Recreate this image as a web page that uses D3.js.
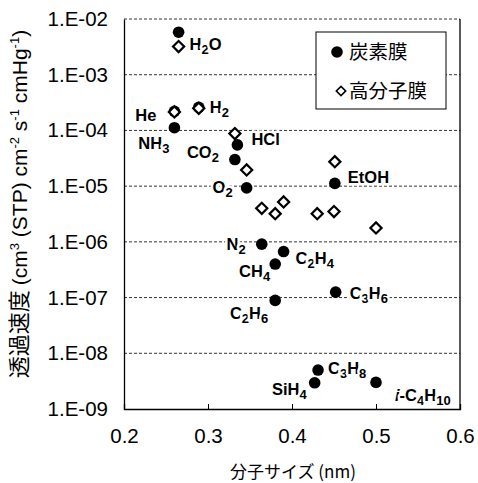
<!DOCTYPE html>
<html>
<head>
<meta charset="utf-8">
<script src="https://cdn.jsdelivr.net/npm/d3@7"></script>
<style>
  body { margin: 0; background: #fff; }
  svg { display: block; }
</style>
</head>
<body>
<div id="chart"></div>
<script>
// carbon membrane (filled circles)
const carbonGas  = ["H2O", "He", "H2", "NH3", "HCl", "CO2", "O2", "EtOH", "N2", "C2H4", "CH4", "C2H6", "C3H6", "C3H8", "SiH4", "i-C4H10"];
const carbonSize = [0.265, 0.26, 0.289, 0.26, 0.335, 0.332, 0.346, 0.451, 0.364, 0.39, 0.38, 0.38, 0.452, 0.431, 0.427, 0.50];
const carbonPerm = [5.8e-3, 2.2e-4, 2.6e-4, 1.12e-4, 5.5e-5, 3.0e-5, 9.3e-6, 1.12e-5, 9.1e-7, 6.7e-7, 4.0e-7, 8.9e-8, 1.25e-7, 5.0e-9, 2.95e-9, 3.0e-9];

// polymer membrane (open diamonds)
const polymerSize = [0.265, 0.26, 0.289, 0.332, 0.346, 0.364, 0.38, 0.39, 0.43, 0.45, 0.50, 0.451];
const polymerPerm = [3.2e-3, 2.15e-4, 2.5e-4, 8.8e-5, 1.95e-5, 4.0e-6, 3.2e-6, 5.2e-6, 3.2e-6, 3.5e-6, 1.78e-6, 2.75e-5];

const xTicks = [0.2, 0.3, 0.4, 0.5, 0.6];
const yTicks = [1e-9, 1e-8, 1e-7, 1e-6, 1e-5, 1e-4, 1e-3, 1e-2];
const seriesNames = ["炭素膜", "高分子膜"];

const width = 478, height = 483;
const mLeft = 124, mRight = 460, mTop = 19, mBottom = 409;

const svg = d3.select("#chart").append("svg")
  .attr("width", width).attr("height", height)
  .style("font-family", "'Liberation Sans', Arial, sans-serif");

const x = d3.scaleLinear().domain([0.2, 0.6]).range([mLeft, mRight]);
const y = d3.scaleLog().domain([1e-9, 1e-2]).range([mBottom, mTop]);

// dashed gridlines
svg.append("g").selectAll("line")
  .data(yTicks.slice(1))
  .join("line")
  .attr("x1", mLeft).attr("x2", mRight)
  .attr("y1", d => y(d)).attr("y2", d => y(d))
  .attr("stroke", "#333").attr("stroke-width", 1)
  .attr("stroke-dasharray", "3,2");

// right border
svg.append("line")
  .attr("x1", mRight).attr("x2", mRight).attr("y1", mTop).attr("y2", mBottom)
  .attr("stroke", "#000").attr("stroke-width", 1.3);

// x axis
const fmtY = d => "1.E-0" + Math.round(-Math.log10(d));
svg.append("g")
  .attr("transform", `translate(0,${mBottom})`)
  .call(d3.axisBottom(x).tickValues(xTicks).tickSize(-5).tickPadding(19).tickFormat(d3.format(".1f")))
  .call(g => g.select(".domain").attr("stroke-width", 1.3))
  .call(g => g.selectAll("text").attr("font-size", 20.5).attr("fill", "#000")
    .attr("font-family", "'Liberation Sans', Arial, sans-serif"));

// y axis
svg.append("g")
  .attr("transform", `translate(${mLeft},0)`)
  .call(d3.axisLeft(y).tickValues(yTicks).tickSize(0).tickPadding(16).tickFormat(fmtY))
  .call(g => g.select(".domain").attr("stroke-width", 1.3))
  .call(g => g.selectAll("text").attr("font-size", 20.5).attr("fill", "#000")
    .attr("font-family", "'Liberation Sans', Arial, sans-serif"));

// axis titles
svg.append("text")
  .attr("x", (mLeft + mRight) / 2 + 1).attr("y", 478)
  .attr("text-anchor", "middle")
  .attr("font-size", 17)
  .style("font-family", "'Noto Sans CJK JP', 'Liberation Sans', sans-serif")
  .text("分子サイズ (nm)");

const yt = svg.append("text")
  .attr("transform", "translate(27,204) rotate(-90)")
  .attr("text-anchor", "middle")
  .attr("font-size", 21);
const supParts = [
  ["透過速度 ", null], ["(cm", null], ["3", "sup"], [" (STP) cm", null], ["-2", "sup"],
  [" s", null], ["-1", "sup"], [" cmHg", null], ["-1", "sup"], [")", null]
];
supParts.forEach(([t, k], i) => {
  const ts = yt.append("tspan").text(t);
  if (i === 0) ts.style("font-family", "'Noto Sans CJK JP', sans-serif").attr("font-size", 22);
  if (k === "sup") ts.attr("font-size", 13).attr("dy", -8);
  else if (i > 0 && supParts[i - 1][1] === "sup") ts.attr("dy", 8);
});

// labels for carbon points: [anchor, dx, dy]
const labelPos = {
  "H2O": ["start", 11, 12], "He": ["end", -18, 4], "H2": ["start", 11, 0],
  "NH3": ["end", -5, 15], "HCl": ["start", 14, -6], "CO2": ["end", -16, -8],
  "O2": ["end", -14, -1], "EtOH": ["start", 13, -6], "N2": ["end", -16, 0],
  "C2H4": ["start", 12, 6], "CH4": ["end", -5, 7], "C2H6": ["end", -7, 13],
  "C3H6": ["start", 14, 1], "C3H8": ["start", 10, -2], "SiH4": ["end", -8, 6],
  "i-C4H10": ["start", 19, 13]
};

const carbon = carbonGas.map((g, i) => ({ gas: g, size: carbonSize[i], perm: carbonPerm[i] }));
const polymer = polymerSize.map((s, i) => ({ size: s, perm: polymerPerm[i] }));

const labels = svg.append("g")
  .attr("font-size", 16.5).attr("font-weight", "bold");
carbon.forEach(d => {
  const [anchor, dx, dy] = labelPos[d.gas];
  const t = labels.append("text")
    .attr("x", x(d.size) + dx).attr("y", y(d.perm) + dy + 6)
    .attr("text-anchor", anchor)
    .attr("stroke", "#fff").attr("stroke-width", 5).attr("paint-order", "stroke")
    .attr("stroke-linejoin", "round");
  let rest = d.gas;
  if (rest.startsWith("i-")) {
    t.append("tspan").attr("font-style", "italic").text("i");
    rest = rest.slice(1);
  }
  // split letters vs digits for subscripts
  const parts = rest.match(/[^0-9]+|[0-9]+/g);
  let low = false;
  parts.forEach(p => {
    const isNum = /^[0-9]+$/.test(p);
    const ts = t.append("tspan").text(p);
    if (isNum) { ts.attr("font-size", 13).attr("dy", low ? 0 : 4); low = true; }
    else if (low) { ts.attr("dy", -4); low = false; }
  });
});

// points: carbon circles first, polymer diamonds on top
svg.append("g").selectAll("circle")
  .data(carbon)
  .join("circle")
  .attr("cx", d => x(d.size)).attr("cy", d => y(d.perm))
  .attr("r", 5.8).attr("fill", "#000");

const diamond = d3.symbol().type(d3.symbolSquare).size(62);
svg.append("g").selectAll("path")
  .data(polymer)
  .join("path")
  .attr("transform", d => `translate(${x(d.size)},${y(d.perm)}) rotate(45)`)
  .attr("d", diamond)
  .attr("fill", "#fff").attr("stroke", "#000").attr("stroke-width", 2.2);

// legend
const lg = svg.append("g").attr("transform", "translate(316,32)");
lg.append("rect").attr("width", 130).attr("height", 77)
  .attr("fill", "#fff").attr("stroke", "#000").attr("stroke-width", 1);
lg.append("circle").attr("cx", 21).attr("cy", 20).attr("r", 5.8).attr("fill", "#000");
lg.append("path").attr("transform", "translate(25,59) rotate(45)")
  .attr("d", d3.symbol().type(d3.symbolSquare).size(44))
  .attr("fill", "#fff").attr("stroke", "#000").attr("stroke-width", 1.6);
lg.selectAll("text.name")
  .data(seriesNames)
  .join("text")
  .attr("class", "name")
  .attr("x", 33).attr("y", (d, i) => 27 + i * 39)
  .attr("font-size", 19.5)
  .style("font-family", "'Noto Sans CJK JP', sans-serif")
  .text(d => d);
</script>
</body>
</html>
